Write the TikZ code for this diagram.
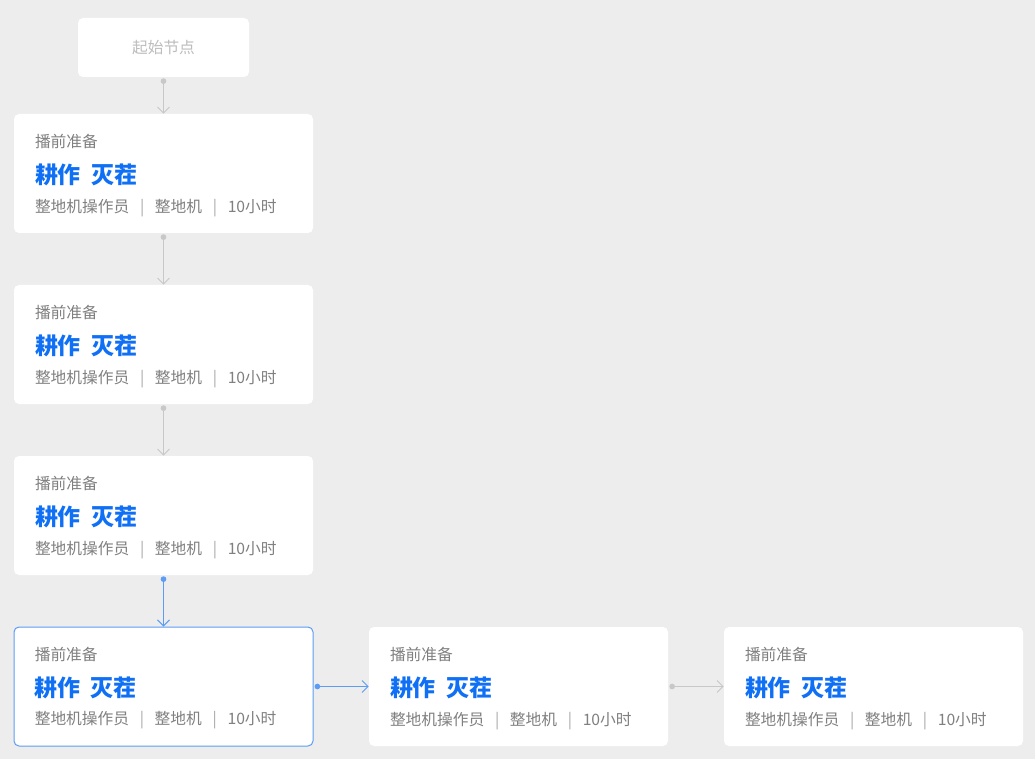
\documentclass[tikz,border=0pt]{standalone}
\usepackage{fontspec}
\setmainfont{Noto Sans CJK SC}
\usetikzlibrary{arrows.meta,positioning}
\definecolor{bggray}{HTML}{EDEDED}
\definecolor{txtgray}{HTML}{808080}
\definecolor{startgray}{HTML}{BDBDBD}
\definecolor{sepgray}{HTML}{A8A8A8}
\definecolor{linkgray}{HTML}{C8C8C8}
\definecolor{taskblue}{HTML}{1070F5}
\definecolor{activeblue}{HTML}{5C9CF5}
\tikzset{
  card/.style={fill=white, rounded corners=3.75pt, inner sep=0pt,
               minimum width=224.25pt, minimum height=89.25pt},
  active/.style={draw=activeblue, line width=0.75pt},
  startcard/.style={card, minimum width=128.25pt, minimum height=44.25pt,
                    text=startgray, font=\fontsize{11.8pt}{13pt}\selectfont},
  stage/.style={anchor=west, inner sep=0pt, text=txtgray, font=\fontsize{11.8pt}{13pt}\selectfont},
  task/.style={anchor=west, inner sep=0pt, text=taskblue,
               font=\fontsize{17.2pt}{19pt}\selectfont\bfseries,
               execute at begin node={\spaceskip=0.45em\relax}},
  meta/.style={anchor=west, inner sep=0pt, text=txtgray, font=\fontsize{11.8pt}{13pt}\selectfont},
  link/.style={draw=linkgray, line width=0.75pt,
               {Circle[length=4.2pt]}-{Straight Barb[length=4.5pt,width=9pt]}},
  bluelink/.style={link, draw=activeblue}
}
\newcommand{\sepbar}{\hspace{8pt}{\color{sepgray}|}\hspace{8pt}}
\newcommand{\taskcard}[4]{% name, x, y, extra style
  \node[card,#4] (#1) at (#2,#3) {};
  \node[stage] (#1s) at ([xshift=15.75pt,yshift=-21pt]#1.north west) {播前准备};
  \node[task] (#1t) at ([xshift=15.75pt,yshift=-46.1pt]#1.north west) {耕作 灭茬};
  \node[meta] (#1m) at ([xshift=15.75pt,yshift=-70.5pt]#1.north west) {整地机操作员\sepbar 整地机\sepbar 10小时};
}
\begin{document}
\begin{tikzpicture}[x=0.75pt,y=-0.75pt]
    \useasboundingbox[fill=bggray] (0,0) rectangle (1035,759); % background
    \node[startcard] (start) at (163.5,47.5) {起始节点}; % start node
    \foreach \i/\y in {1/173.5,2/344.5,3/515.5} {
        \taskcard{c\i}{163.5}{\y}{}
    } % vertical cards
    \taskcard{c4}{163.5}{686.5}{active} % selected card
    \taskcard{c5}{518.5}{686.5}{}
    \taskcard{c6}{873.5}{686.5}{}
    \draw[link] ([yshift=-0.8pt]start.south) -- (c1.north); % links
    \draw[link] ([yshift=-0.8pt]c1.south) -- (c2.north);
    \draw[link] ([yshift=-0.8pt]c2.south) -- (c3.north);
    \draw[bluelink] ([yshift=-0.8pt]c3.south) -- (c4.north);
    \draw[bluelink] ([xshift=0.8pt]c4.east) -- (c5.west);
    \draw[link] ([xshift=0.8pt]c5.east) -- (c6.west);
\end{tikzpicture}
\end{document}
